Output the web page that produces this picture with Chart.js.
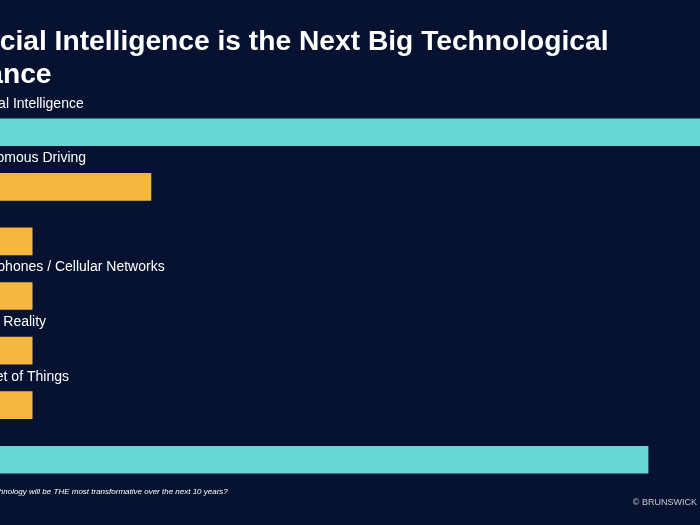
<!DOCTYPE html>
<html>
<head>
<meta charset="utf-8">
<script src="https://cdn.jsdelivr.net/npm/chart.js@4"></script>
<style>
  html, body { margin: 0; padding: 0; background: #061230; overflow: hidden; }
  #wrap { position: absolute; left: -66px; top: 0; width: 766px; height: 525px; }
</style>
</head>
<body>
<div id="wrap"><canvas id="c" width="766" height="525"></canvas></div>
<script>
const titleLines = ["Artificial Intelligence is the Next Big Technological", "Advance"];
const categories = ["Artificial Intelligence", "Autonomous Driving", "Cloud",
  "Smartphones / Cellular Networks", "Virtual Reality", "Internet of Things", "Other"];
const values = [44, 10.4, 4, 4, 4, 4, 37.2];
const barColors = ["#66d6d6", "#f5b740", "#f5b740", "#f5b740", "#f5b740", "#f5b740", "#66d6d6"];
const footnote = "Q: Which technology will be THE most transformative over the next 10 years?";
const credit = "© BRUNSWICK";

const textPlugin = {
  id: 'texts',
  afterDatasetsDraw(chart) {
    const ctx = chart.ctx;
    const meta = chart.getDatasetMeta(0);
    ctx.save();
    // title
    ctx.fillStyle = '#ffffff';
    ctx.font = 'bold 28.2px "Liberation Sans", Arial, sans-serif';
    ctx.textAlign = 'left';
    ctx.textBaseline = 'alphabetic';
    ctx.fillText(titleLines[0], 0, 50);
    ctx.fillText(titleLines[1], 0, 83);
    // category labels above bars
    ctx.font = '14px "Liberation Sans", Arial, sans-serif';
    ctx.textBaseline = 'middle';
    meta.data.forEach((bar, i) => {
      ctx.fillText(categories[i], chart.chartArea.left + 2, bar.y - bar.height / 2 - 15);
    });
    // footnote
    ctx.font = 'italic 8px "Liberation Sans", Arial, sans-serif';
    ctx.textBaseline = 'alphabetic';
    ctx.fillText(footnote, 19, 494);
    // credit
    ctx.fillStyle = '#c4c8d0';
    ctx.font = '9px "Liberation Sans", Arial, sans-serif';
    ctx.textAlign = 'right';
    ctx.fillText(credit, chart.width - 3, 505);
    ctx.restore();
  }
};

new Chart(document.getElementById('c'), {
  type: 'bar',
  data: {
    labels: categories,
    datasets: [{
      data: values,
      backgroundColor: barColors,
      borderWidth: 0,
      barThickness: 27
    }]
  },
  options: {
    indexAxis: 'y',
    responsive: false,
    animation: false,
    layout: { padding: { left: 24, right: 0, top: 105, bottom: 38 } },
    scales: {
      x: { display: false, min: 0, max: 40 },
      y: { display: false }
    },
    plugins: {
      legend: { display: false },
      title: { display: false },
      tooltip: { enabled: false }
    }
  },
  plugins: [textPlugin]
});
</script>
</body>
</html>
